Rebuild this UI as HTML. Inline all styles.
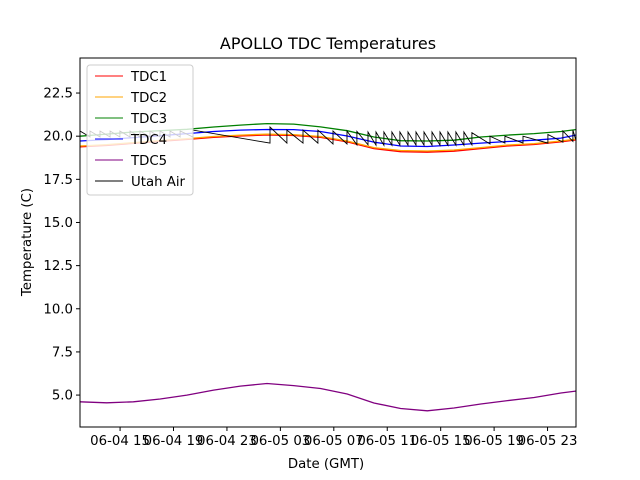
<!DOCTYPE html>
<html><head><meta charset="utf-8"><style>
body{margin:0;background:#fff;}
svg{display:block;font-family:"DejaVu Sans","Liberation Sans",sans-serif;}
</style></head><body>
<svg id="chart" width="640" height="480" xmlns="http://www.w3.org/2000/svg">
<rect width="640" height="480" fill="#fff"/>
<text x="328" y="49" font-size="16" text-anchor="middle">APOLLO TDC Temperatures</text>
<text x="326" y="468" font-size="13.3" text-anchor="middle">Date (GMT)</text>
<text transform="translate(31,242) rotate(-90)" font-size="13.3" text-anchor="middle">Temperature (C)</text>
<g id="series"></g>
<g id="axes"></g>
<g id="legend"></g>
</svg>
<script>
const sampleHours=[12,14,16,18,20,22,24,26,28,30,32,34,36,38,40,42,44,46,48,49.1];
const tdc1=[19.38,19.46,19.58,19.7,19.81,19.93,20.01,20.07,20.04,19.93,19.67,19.28,19.1,19.07,19.13,19.28,19.43,19.52,19.67,19.78];
const tdc2=[19.43,19.51,19.63,19.75,19.86,19.98,20.06,20.12,20.09,19.98,19.72,19.34,19.17,19.14,19.2,19.34,19.49,19.57,19.72,19.83];
const tdc3=[20.0,20.12,20.24,20.32,20.4,20.53,20.64,20.73,20.7,20.54,20.32,19.95,19.74,19.72,19.77,19.95,20.06,20.15,20.27,20.38];
const tdc4=[19.72,19.8,19.92,20.03,20.15,20.27,20.35,20.39,20.38,20.27,20.01,19.66,19.43,19.4,19.49,19.6,19.69,19.77,19.89,20.06];
const tdc5=[4.61,4.55,4.61,4.77,5.0,5.29,5.52,5.67,5.55,5.38,5.06,4.54,4.22,4.09,4.25,4.48,4.68,4.86,5.12,5.23];
const airPeakHours=[12.0,12.75,13.5,14.25,14.99,15.74,16.49,17.24,17.99,18.74,19.49,20.46,26.22,27.49,28.69,29.81,30.94,31.99,32.73,33.56,34.16,34.75,35.35,35.95,36.55,37.15,37.75,38.35,38.95,39.54,40.14,40.74,41.34,42.69,43.81,45.16,47.03,48.15,48.9];
const airPeakVals=[20.3,20.3,20.3,20.3,20.3,20.3,20.3,20.3,20.3,20.3,20.3,20.35,20.53,20.35,20.35,20.35,20.3,20.3,20.28,20.24,20.24,20.24,20.24,20.24,20.24,20.24,20.24,20.24,20.24,20.24,20.24,20.24,20.2,20.0,20.0,20.0,20.1,20.3,20.35];
const airTroughVals=[19.95,19.95,19.95,19.95,19.95,19.95,19.95,19.95,19.95,19.95,19.95,19.6,19.6,19.6,19.6,19.55,19.55,19.5,19.5,19.48,19.48,19.48,19.48,19.48,19.48,19.48,19.48,19.48,19.48,19.48,19.48,19.5,19.55,19.6,19.6,19.6,19.65,19.7,19.75];
const yTicks=[5.0,7.5,10.0,12.5,15.0,17.5,20.0,22.5];
const xTickHours=[15,19,23,27,31,35,39,43,47];
const xTickLabels=["06-04 15","06-04 19","06-04 23","06-05 03","06-05 07","06-05 11","06-05 15","06-05 19","06-05 23"];

const L=80,R=576,T=58,B=427;
const xMin=12,xMax=49.13,yMin=3.15,yMax=24.53;
const xs=h=>L+(h-xMin)/(xMax-xMin)*(R-L);
const ys=v=>B-(v-yMin)/(yMax-yMin)*(B-T);
const NS="http://www.w3.org/2000/svg";
function mk(tag,attrs,parent){const e=document.createElementNS(NS,tag);for(const k in attrs)e.setAttribute(k,attrs[k]);parent.appendChild(e);return e;}
const series=document.getElementById('series');
function line(vals,color,name){
  const d=vals.map((v,i)=>(i?'L':'M')+xs(sampleHours[i]).toFixed(1)+','+ys(v).toFixed(1)).join('');
  const p=mk('path',{d:d,fill:'none',stroke:color,'stroke-width':1.3},series);
  
  
}
line(tdc1,'#ff0000','tdc1-line');
line(tdc2,'#ffa500','tdc2-line');
line(tdc3,'#008000','tdc3-line');
line(tdc4,'#0000ff','tdc4-line');
line(tdc5,'#800080','tdc5-line');
let d='';
for(let i=0;i<airPeakHours.length;i++){
  const t0=airPeakHours[i];
  const t1=i+1<airPeakHours.length?airPeakHours[i+1]:xMax;
  d+=(i?'L':'M')+xs(t0).toFixed(1)+','+ys(airPeakVals[i]).toFixed(1);
  d+='L'+xs(t1).toFixed(1)+','+ys(airTroughVals[i]).toFixed(1);
}
const air=mk('path',{d:d,fill:'none',stroke:'#000','stroke-width':0.9},series);



const axes=document.getElementById('axes');
const frame=mk('rect',{x:L,y:T,width:R-L,height:B-T,fill:'none',stroke:'#000','stroke-width':1},axes);


yTicks.forEach(v=>{
  const y=ys(v);
  mk('line',{x1:L-4,x2:L,y1:y,y2:y,stroke:'#000'},axes);
  const t=mk('text',{x:L-7,y:y+4.5,'font-size':13.3,'text-anchor':'end'},axes);
  t.textContent=v.toFixed(1);
  
  
});
xTickHours.forEach((h,i)=>{
  const x=xs(h);
  mk('line',{x1:x,x2:x,y1:B,y2:B+4,stroke:'#000'},axes);
  const t=mk('text',{x:x,y:B+18,'font-size':13.3,'text-anchor':'middle'},axes);
  t.textContent=xTickLabels[i];
  
  
});

const lg=document.getElementById('legend');
const box=mk('rect',{x:87,y:65,width:106,height:130,rx:3,fill:'#fff','fill-opacity':0.8,stroke:'#ccc'},lg);


const legNames=['TDC1','TDC2','TDC3','TDC4','TDC5','Utah Air'];
const legColors=['#ff0000','#ffa500','#008000','#0000ff','#800080','#000'];
legNames.forEach((n,i)=>{
  const y=76+i*21;
  const g=mk('g',{},lg);
  
  
  mk('line',{x1:95,x2:123,y1:y,y2:y,stroke:legColors[i],'stroke-width':1},g);
  const t=mk('text',{x:131,y:y+5,'font-size':13.3},g);
  t.textContent=n;
});
</script>
</body></html>
